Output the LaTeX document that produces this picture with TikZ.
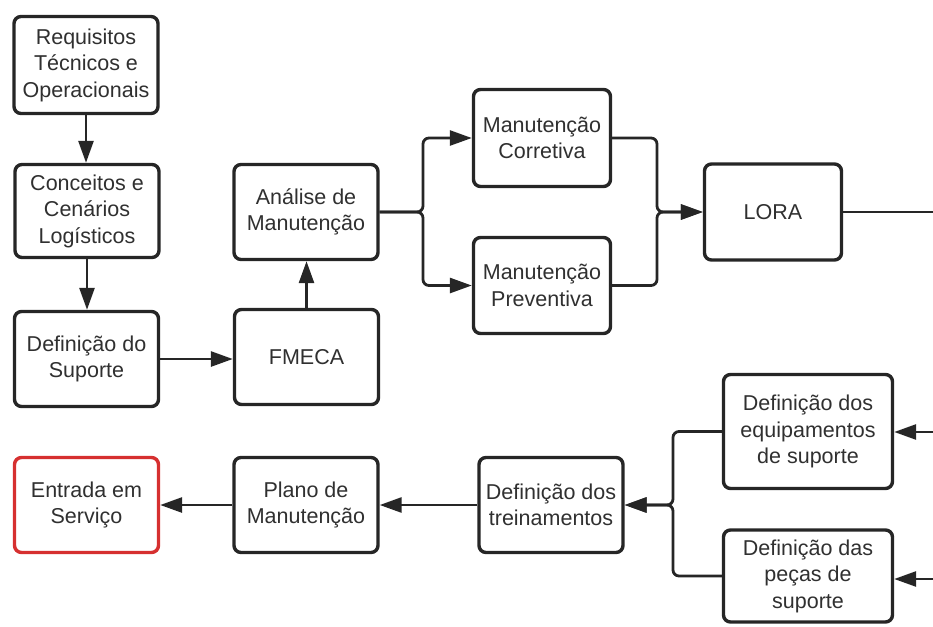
\documentclass[tikz,border=0pt]{standalone}
\usepackage{fontspec}
\setmainfont{Liberation Sans}
\usetikzlibrary{arrows.meta}
\definecolor{ink}{HTML}{262626}
\definecolor{txt}{HTML}{303030}
\definecolor{alert}{HTML}{D63030}
\begin{document}
\begin{tikzpicture}[x=1pt,y=-1pt,
  box/.style={draw=ink, line width=3.4pt, rounded corners=7pt, fill=white,
    align=center, text=txt, inner sep=0pt,
    font=\fontsize{21.5}{26.5}\selectfont,
    minimum width=144pt, minimum height=95pt},
  link/.style={draw=ink, line width=2.8pt, rounded corners=6pt,
    -{Triangle[length=22pt,width=15pt]}},
  plain/.style={draw=ink, line width=2.8pt},
]
\useasboundingbox (0,0) rectangle (933,626);

% left column
\node[box, minimum height=97pt] (req) at (86,65) {Requisitos\\Técnicos e\\Operacionais};
\node[box, minimum height=93pt] (con) at (87,211) {Conceitos e\\Cenários\\Logísticos};
\node[box] (def) at (86.5,359) {Definição do\\Suporte};

% analysis column
\node[box] (fme) at (306.5,357) {FMECA};
\node[box] (ana) at (306,212) {Análise de\\Manutenção};

% maintenance types and LORA
\node[box, minimum width=137pt, minimum height=97pt] (cor) at (542,138) {Manutenção\\Corretiva};
\node[box, minimum width=137pt, minimum height=96pt] (pre) at (542,285.5) {Manutenção\\Preventiva};
\node[box, minimum width=137pt, minimum height=96pt] (lora) at (773,212) {LORA};

% bottom row
\node[box, draw=alert] (ent) at (86.5,505) {Entrada em\\Serviço};
\node[box] (pla) at (306,505) {Plano de\\Manutenção};
\node[box] (tre) at (551,505) {Definição dos\\treinamentos};
\node[box, minimum width=169pt, minimum height=114pt] (equ) at (808,431.5) {Definição dos\\equipamentos\\de suporte};
\node[box, minimum width=169pt, minimum height=92pt] (pec) at (808,576) {Definição das\\peças de\\suporte};

% loose ends at the right margin
\coordinate (loraout) at (933,212);
\coordinate (equin) at (933,432);
\coordinate (pecin) at (933,579);

% connectors
\draw[link] (req.south) -- (req.south |- con.north);
\draw[link] (con.south) -- (con.south |- def.north);
\draw[link] (def.east) -- (def.east -| fme.west);
\draw[link] (fme.north) -- (fme.north |- ana.south);

\draw[link] (ana.east) -- (423,212) |- (cor.west);
\draw[link] (ana.east) -- (423,212) |- (pre.west);
\draw[link] (cor.east) -| (657,212) -- (lora.west);
\draw[link] (pre.east) -| (657,212) -- (lora.west);
\draw[plain] (lora.east) -- (loraout);

\draw[link] (equin) -- (equin -| equ.east);
\draw[link] (pecin) -- (pecin -| pec.east);
\draw[link] (equ.west) -| (673,505) -- (tre.east);
\draw[link] (pec.west) -| (673,505) -- (tre.east);
\draw[link] (tre.west) -- (pla.east);
\draw[link] (pla.west) -- (ent.east);
\end{tikzpicture}
\end{document}
